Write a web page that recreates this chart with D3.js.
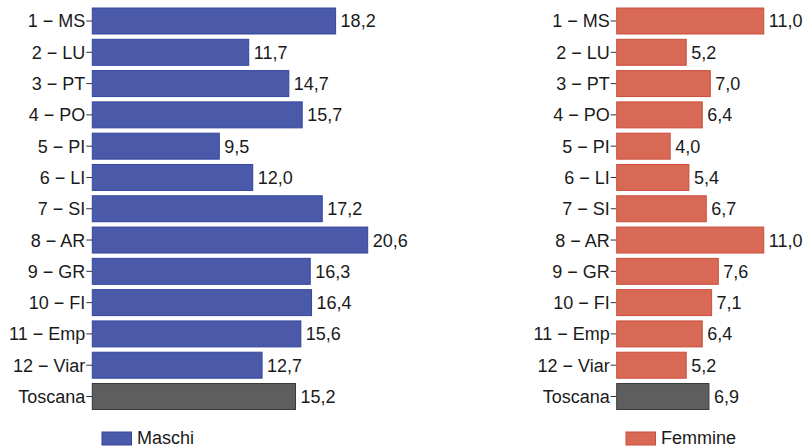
<!DOCTYPE html>
<html><head><meta charset="utf-8">
<script src="https://cdn.jsdelivr.net/npm/d3@7"></script>
<style>body{margin:0;background:#fff;} svg{display:block;} text{font-family:"Liberation Sans",Arial,sans-serif;}</style>
</head><body>
<svg id="c" width="807" height="447"></svg>
<script>
const categories = ["1 − MS","2 − LU","3 − PT","4 − PO","5 − PI","6 − LI","7 − SI","8 − AR","9 − GR","10 − FI","11 − Emp","12 − Viar","Toscana"];
const maschi = [18.2,11.7,14.7,15.7,9.5,12.0,17.2,20.6,16.3,16.4,15.6,12.7,15.2];
const femmine = [11.0,5.2,7.0,6.4,4.0,5.4,6.7,11.0,7.6,7.1,6.4,5.2,6.9];
const seriesNames = ["Maschi","Femmine"];

const svg = d3.select("#c");
const fmt = d3.formatLocale({decimal:",",thousands:".",grouping:[3],currency:["","€"]}).format(".1f");
const y = d3.scaleBand().domain(categories).range([5.35,412.15]).paddingInner(0.17).paddingOuter(0.085);
const FS = 18;

function panel(x0, values, fill, stroke, name, legendX){
  const x = d3.scaleLinear().domain([0,20.6]).range([x0, x0+275.4]);
  const g = svg.append("g");
  const ax = g.append("g").attr("transform",`translate(${x0},0)`)
    .call(d3.axisLeft(y).tickSize(6).tickPadding(1));
  ax.select(".domain").remove();
  ax.selectAll(".tick line").attr("stroke","#333").attr("stroke-width",1);
  ax.selectAll(".tick text").attr("font-size",FS).attr("fill","#1a1a1a")
    .attr("font-family","'Liberation Sans',Arial,sans-serif").attr("dy","0.36em");
  g.selectAll("rect.bar").data(values).join("rect").attr("class","bar")
    .attr("x", x(0)).attr("y",(d,i)=>y(categories[i]))
    .attr("width", d=>x(d)-x(0)).attr("height", y.bandwidth())
    .attr("fill",(d,i)=> categories[i]==="Toscana" ? "#5e5e5e" : fill)
    .attr("stroke",(d,i)=> categories[i]==="Toscana" ? "#3a3a3a" : stroke)
    .attr("stroke-width",1);
  g.selectAll("text.val").data(values).join("text").attr("class","val")
    .attr("x", d=>x(d)+5).attr("y",(d,i)=>y(categories[i])+y.bandwidth()/2)
    .attr("dy","0.36em").attr("font-size",FS).attr("fill","#1a1a1a")
    .text(d=>fmt(d));
  g.append("rect").attr("x",legendX).attr("y",432).attr("width",29.5).attr("height",13)
    .attr("fill",fill).attr("stroke",stroke).attr("stroke-width",1);
  g.append("text").attr("x",legendX+35).attr("y",444).attr("font-size",FS).attr("fill","#1a1a1a").text(name);
}
panel(92.3, maschi, "#4a5aa8", "#3445a0", seriesNames[0], 102);
panel(616.7, femmine, "#d76955", "#cc4d3e", seriesNames[1], 626);
</script>
</body></html>
